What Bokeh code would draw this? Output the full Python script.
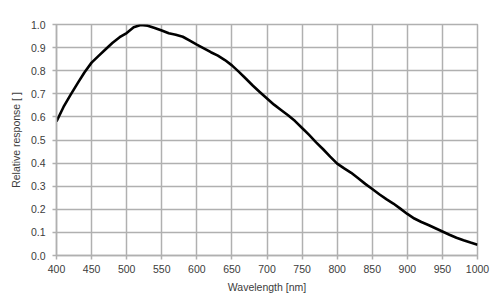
from bokeh.plotting import figure
from bokeh.models import FixedTicker, PrintfTickFormatter, Range1d
from bokeh.embed import file_html
from bokeh.resources import INLINE

# Relative spectral response of the sensor
wavelength_nm = [400, 410, 420, 430, 440, 450, 460, 470, 480, 490,
                 500, 510, 520, 530, 540, 550, 560, 570, 580, 590,
                 600, 610, 620, 630, 640, 650, 660, 670, 680, 690,
                 700, 710, 720, 730, 740, 750, 760, 770, 780, 790,
                 800, 810, 820, 830, 840, 850, 860, 870, 880, 890,
                 900, 910, 920, 930, 940, 950, 960, 970, 980, 990, 1000]
response = [0.580, 0.643, 0.695, 0.745, 0.793, 0.835, 0.864, 0.893, 0.921, 0.945,
            0.963, 0.988, 0.998, 0.995, 0.985, 0.974, 0.962, 0.956, 0.947, 0.930,
            0.913, 0.897, 0.880, 0.865, 0.846, 0.823, 0.795, 0.765, 0.735, 0.707,
            0.680, 0.653, 0.630, 0.607, 0.582, 0.552, 0.522, 0.490, 0.460, 0.428,
            0.398, 0.377, 0.358, 0.334, 0.310, 0.288, 0.265, 0.244, 0.225, 0.203,
            0.180, 0.160, 0.145, 0.132, 0.118, 0.104, 0.090, 0.077, 0.066, 0.056, 0.047]

x_ticks = [400, 450, 500, 550, 600, 650, 700, 750, 800, 850, 900, 950, 1000]
y_ticks = [0.0, 0.1, 0.2, 0.3, 0.4, 0.5, 0.6, 0.7, 0.8, 0.9, 1.0]

GRID = "#b0b0b0"
TEXT = "#3c3c3c"
FONT = "Liberation Sans"

p = figure(width=500, height=300, output_backend="svg", toolbar_location=None,
           x_range=Range1d(400, 1000), y_range=Range1d(0, 1.0))
p.min_border_left = 56
p.min_border_right = 23
p.min_border_top = 24
p.min_border_bottom = 45
p.background_fill_color = "white"
p.border_fill_color = "white"
p.outline_line_color = GRID
p.outline_line_width = 1.5

p.line(wavelength_nm, response, line_color="black", line_width=2.6,
       line_join="round")

for ax, ticks in ((p.xaxis, x_ticks), (p.yaxis, y_ticks)):
    ax.ticker = FixedTicker(ticks=ticks)
    ax.axis_line_color = GRID
    ax.axis_line_width = 1.5
    ax.major_tick_line_color = GRID
    ax.major_tick_line_width = 1.5
    ax.major_tick_out = 4
    ax.major_tick_in = 0
    ax.minor_tick_line_color = None
    ax.major_label_text_font = FONT
    ax.major_label_text_font_size = "10.5px"
    ax.major_label_text_color = TEXT
    ax.axis_label_text_font = FONT
    ax.axis_label_text_font_size = "10.5px"
    ax.axis_label_text_font_style = "normal"
    ax.axis_label_text_color = TEXT

p.yaxis.formatter = PrintfTickFormatter(format="%.1f")
p.yaxis.major_label_standoff = 7
p.xaxis.major_label_standoff = 5
p.xaxis.axis_label = "Wavelength [nm]"
p.yaxis.axis_label = "Relative response [ ]"
p.xaxis.axis_label_standoff = 5
p.yaxis.axis_label_standoff = 6

for g, ticks in ((p.xgrid, x_ticks), (p.ygrid, y_ticks)):
    g.ticker = FixedTicker(ticks=ticks)
    g.grid_line_color = GRID
    g.grid_line_width = 1.5

open("out.html", "w").write(file_html(p, INLINE))
